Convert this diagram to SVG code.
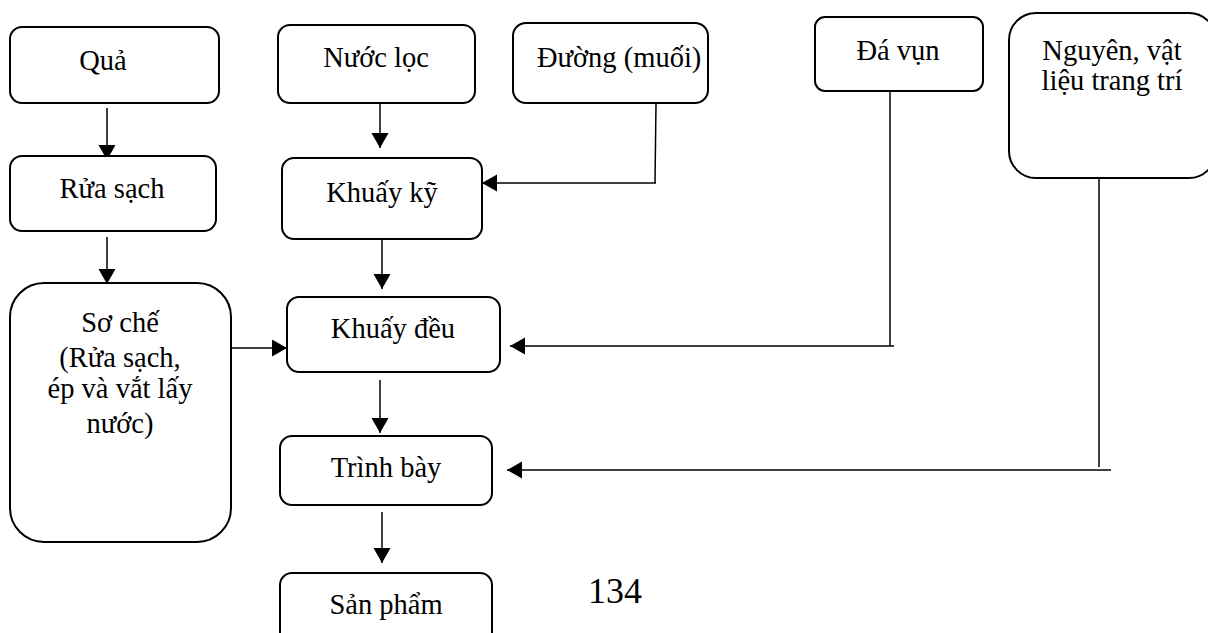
<svg xmlns="http://www.w3.org/2000/svg" width="1208" height="633" viewBox="0 0 1208 633">
<style>
.box{fill:#fff;stroke:#000;stroke-width:2}
.t{font-family:"Liberation Serif","Times New Roman",serif;font-size:28.5px;fill:#000}
.c{text-anchor:middle}
.ln{fill:none;stroke:#000;stroke-width:1.5}
.ar{marker-end:url(#ah)}
</style>
<defs>
<marker id="ah" markerUnits="userSpaceOnUse" markerWidth="18" markerHeight="18" refX="15" refY="8.5" orient="auto">
<path d="M0,0 L15,8.5 L0,17 Z" fill="#000"/>
</marker>
</defs>
<rect width="1208" height="633" fill="#fff"/>
<g id="connectors">
<line class="ln ar" x1="107" y1="108" x2="107" y2="160"/>
<line class="ln ar" x1="107" y1="237" x2="107" y2="284"/>
<line class="ln ar" x1="380" y1="96" x2="380" y2="148"/>
<line class="ln ar" x1="382" y1="239" x2="382" y2="289"/>
<line class="ln ar" x1="231" y1="348" x2="287" y2="348"/>
<line class="ln ar" x1="380" y1="380" x2="380" y2="433"/>
<line class="ln ar" x1="382" y1="512" x2="382" y2="563"/>
<polyline class="ln" points="656,104 655,183"/>
<line class="ln ar" x1="656" y1="183" x2="482" y2="183"/>
<polyline class="ln" points="890,91 890,346"/>
<line class="ln ar" x1="894" y1="346" x2="510" y2="346"/>
<polyline class="ln" points="1099,178 1099,467"/>
<line class="ln ar" x1="1111" y1="470" x2="507" y2="470"/>
</g>
<g id="qua"><rect class="box" x="10" y="27" width="209" height="76" rx="12"/><text class="t c" x="103" y="70">Quả</text></g>
<g id="nuocloc"><rect class="box" x="278" y="25" width="197" height="78" rx="12"/><text class="t c" x="376" y="67">Nước lọc</text></g>
<g id="duong"><rect class="box" x="513" y="23" width="195" height="80" rx="13"/><text class="t" x="537" y="67">Đường (muối)</text></g>
<g id="davun"><rect class="box" x="815" y="17" width="168" height="74" rx="10"/><text class="t c" x="898" y="60">Đá vụn</text></g>
<g id="nguyenlieu"><rect class="box" x="1009" y="13" width="207" height="165" rx="27"/><text class="t c" x="1112" y="60">Nguyên, vật</text><text class="t c" x="1112" y="90">liệu trang trí</text></g>
<g id="ruasach"><rect class="box" x="10" y="156" width="206" height="75" rx="12"/><text class="t c" x="112" y="198">Rửa sạch</text></g>
<g id="khuayky"><rect class="box" x="282" y="158" width="200" height="81" rx="12"/><text class="t c" x="382" y="202">Khuấy kỹ</text></g>
<g id="soche"><rect class="box" x="10" y="283" width="221" height="259" rx="34"/>
<text class="t c" x="120" y="332">Sơ chế</text>
<text class="t c" x="120" y="367">(Rửa sạch,</text>
<text class="t c" x="120" y="398">ép và vắt lấy</text>
<text class="t c" x="120" y="433">nước)</text></g>
<g id="khuaydeu"><rect class="box" x="287" y="297" width="213" height="75" rx="12"/><text class="t c" x="393" y="338">Khuấy đều</text></g>
<g id="trinhbay"><rect class="box" x="280" y="436" width="212" height="69" rx="12"/><text class="t c" x="386" y="477">Trình bày</text></g>
<g id="sanpham"><rect class="box" x="280" y="573" width="212" height="80" rx="12"/><text class="t c" x="386" y="614">Sản phẩm</text></g>
<text class="t" x="588" y="603" style="font-size:36px">134</text>
</svg>
